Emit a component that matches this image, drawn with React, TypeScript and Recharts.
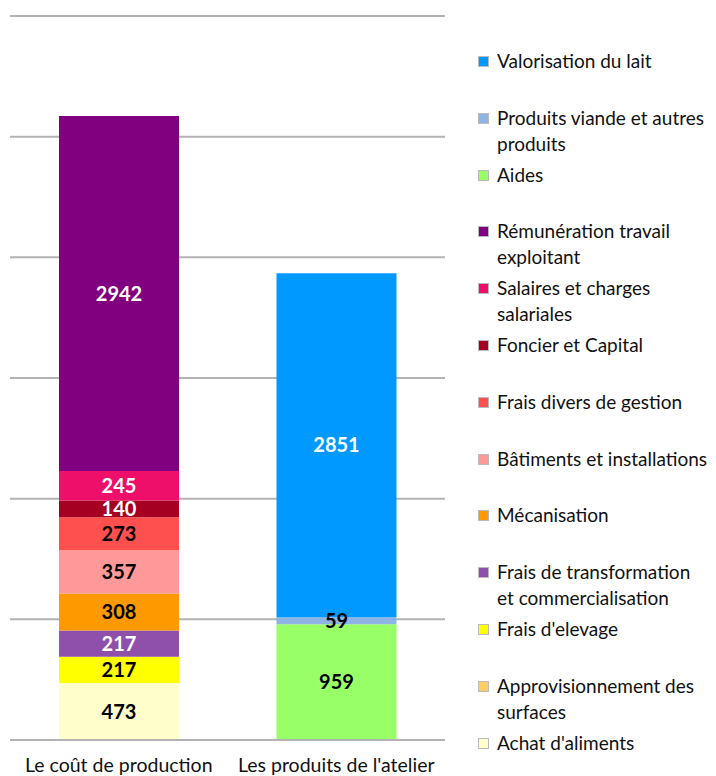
import { BarChart, Bar, XAxis, YAxis, CartesianGrid, LabelList } from "recharts";

const categories = ["Le coût de production", "Les produits de l'atelier"];

// stacking order, bottom to top
const seriesNames = [
  "Achat d'aliments",
  "Approvisionnement des surfaces",
  "Frais d'elevage",
  "Frais de transformation et commercialisation",
  "Mécanisation",
  "Bâtiments et installations",
  "Frais divers de gestion",
  "Foncier et Capital",
  "Salaires et charges salariales",
  "Rémunération travail exploitant",
  "Aides",
  "Produits viande et autres produits",
  "Valorisation du lait",
];
const costValues = [473, 0, 217, 217, 308, 357, 273, 140, 245, 2942, 0, 0, 0];
const productValues = [0, 0, 0, 0, 0, 0, 0, 0, 0, 0, 959, 59, 2851];
const yTicks = [0, 1000, 2000, 3000, 4000, 5000, 6000];

const colors = [
  "#FFFFCC",
  "#FFCC66",
  "#FFFF00",
  "#8E50AA",
  "#FF9900",
  "#FF9999",
  "#FF5050",
  "#A50021",
  "#EE0F6A",
  "#800080",
  "#99FF66",
  "#8DB4E2",
  "#0099FF",
];
const labelColors = [
  "#000", "#000", "#000", "#fff", "#000", "#000", "#000",
  "#fff", "#fff", "#fff", "#000", "#000", "#fff",
];

const data = categories.map((name, c) => {
  const row: Record<string, string | number> = { name };
  const vals = c === 0 ? costValues : productValues;
  seriesNames.forEach((s, i) => {
    row[s] = vals[i];
  });
  return row;
});

const font = "Lato, 'Open Sans', sans-serif";

const LegendList = () => (
  <div
    style={{
      position: "absolute",
      left: 478,
      top: 48,
      fontFamily: font,
      fontSize: 19,
      color: "#111",
    }}
  >
    {[...seriesNames].reverse().map((s) => {
      const i = seriesNames.indexOf(s);
      return (
        <div key={s} style={{ display: "flex", height: 56.8, lineHeight: "26px" }}>
          <span
            style={{
              width: 9,
              height: 9,
              marginTop: 8,
              marginRight: 8,
              flex: "none",
              background: colors[i],
              border: "1px solid #bbb",
            }}
          />
          <span style={{ width: 212 }}>{s}</span>
        </div>
      );
    })}
  </div>
);

export default function App() {
  return (
    <div style={{ position: "absolute", left: 0, top: 0, width: 716, height: 776, background: "#fff", overflow: "hidden" }}>
      <BarChart
        width={716}
        height={776}
        data={data}
        margin={{ top: 16, right: 271, left: 10, bottom: 0 }}
        barSize={120}
      >
        <CartesianGrid vertical={false} stroke="#B3B3B3" strokeWidth={2} />
        <YAxis hide domain={[0, 6000]} ticks={yTicks} />
        <XAxis
          dataKey="name"
          height={36}
          stroke="#B3B3B3"
          strokeWidth={2}
          tickLine={false}
          tickMargin={12}
          interval={0}
          tick={{ fill: "#111", fontSize: 19.5, fontFamily: font }}
        />
        {seriesNames.map((s, i) => (
          <Bar key={s} dataKey={s} stackId="a" fill={colors[i]} isAnimationActive={false}>
            <LabelList
              dataKey={s}
              position="center"
              formatter={(v: any) => (v ? v : "")}
              fill={labelColors[i]}
              style={{ fontFamily: font, fontSize: 20, fontWeight: 700 }}
            />
          </Bar>
        ))}
      </BarChart>
      <LegendList />
    </div>
  );
}
